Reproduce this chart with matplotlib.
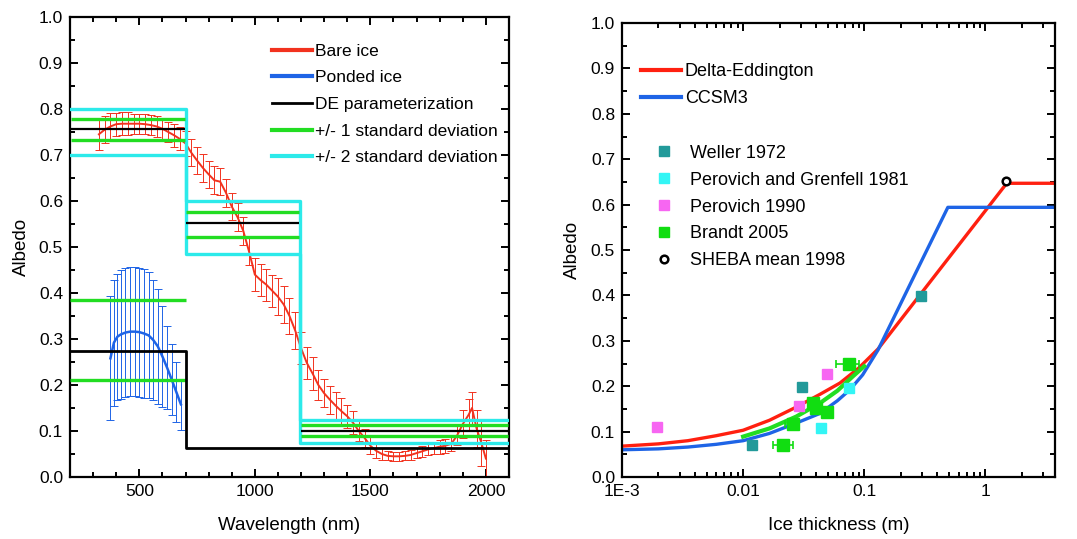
import numpy as np
import matplotlib.pyplot as plt
from matplotlib.lines import Line2D
from matplotlib.ticker import MultipleLocator, FixedLocator, LogLocator, NullFormatter

plt.rcParams['font.family'] = ['Liberation Sans', 'DejaVu Sans']

# ---- left panel: spectral albedo ----
bare_wl = [325, 350, 375, 400, 425, 450, 475, 500, 525, 550, 575, 600, 625, 650, 675,
           700, 725, 750, 775, 800, 825, 850, 875, 900, 925, 950, 975, 1000, 1025, 1050,
           1075, 1100, 1125, 1150, 1175, 1200, 1225, 1250, 1275, 1300, 1325, 1350, 1375,
           1400, 1425, 1450, 1475, 1500, 1525, 1550, 1575, 1600, 1625, 1650, 1675, 1700,
           1725, 1750, 1775, 1800, 1825, 1850, 1875, 1900, 1925, 1940, 1960, 1980, 2000]
bare_alb = [0.745, 0.755, 0.762, 0.767, 0.768, 0.768, 0.768, 0.768, 0.767, 0.765, 0.762,
            0.757, 0.750, 0.743, 0.735, 0.725, 0.705, 0.688, 0.672, 0.658, 0.645, 0.642,
            0.618, 0.588, 0.565, 0.535, 0.490, 0.440, 0.428, 0.418, 0.405, 0.392, 0.375,
            0.350, 0.318, 0.280, 0.248, 0.225, 0.200, 0.182, 0.168, 0.155, 0.143, 0.132,
            0.118, 0.100, 0.085, 0.068, 0.057, 0.050, 0.046, 0.045, 0.045, 0.046, 0.048,
            0.052, 0.056, 0.060, 0.063, 0.066, 0.068, 0.072, 0.090, 0.115, 0.135, 0.150,
            0.105, 0.075, 0.040]
bare_err = [0.035, 0.030, 0.030, 0.025, 0.025, 0.025, 0.022, 0.022, 0.022, 0.022, 0.022,
            0.022, 0.022, 0.025, 0.025, 0.028, 0.030, 0.030, 0.030, 0.030, 0.030, 0.030,
            0.030, 0.030, 0.030, 0.030, 0.030, 0.035, 0.035, 0.035, 0.035, 0.040, 0.040,
            0.040, 0.040, 0.035, 0.035, 0.035, 0.033, 0.030, 0.030, 0.030, 0.028, 0.025,
            0.025, 0.022, 0.020, 0.018, 0.015, 0.012, 0.010, 0.010, 0.010, 0.010, 0.010,
            0.010, 0.012, 0.012, 0.014, 0.015, 0.015, 0.016, 0.020, 0.030, 0.035, 0.035,
            0.040, 0.050, 0.040]

pond_wl = [375, 390, 405, 420, 440, 460, 480, 500, 520, 540, 560, 580, 600, 620, 640, 660, 680]
pond_alb = [0.258, 0.292, 0.305, 0.310, 0.314, 0.316, 0.316, 0.315, 0.312, 0.308, 0.298,
            0.284, 0.262, 0.238, 0.212, 0.185, 0.158]
pond_err = [0.135, 0.137, 0.137, 0.140, 0.140, 0.140, 0.140, 0.140, 0.140, 0.137, 0.130,
            0.125, 0.110, 0.090, 0.078, 0.066, 0.055]

band_edges = [200, 700, 1195, 2100]
bare_de = [0.757, 0.552, 0.101]
bare_1sd_hi = [0.779, 0.576, 0.114]
bare_1sd_lo = [0.732, 0.522, 0.090]
bare_2sd_hi = [0.800, 0.600, 0.124]
bare_2sd_lo = [0.700, 0.484, 0.075]
pond_edges = [200, 700, 2100]
pond_de = [0.275, 0.063]
pond_1sd = [0.385, 0.210]

# ---- right panel: albedo vs ice thickness ----
de_h = [0.001, 0.002, 0.0035, 0.006, 0.01, 0.0165, 0.027, 0.043, 0.063, 0.09, 0.13,
        0.4, 1.5, 3.8]
de_alb = [0.068, 0.073, 0.080, 0.091, 0.103, 0.125, 0.153, 0.182, 0.207, 0.240, 0.282,
          0.450, 0.647, 0.647]
ccsm_h = [0.001, 0.002, 0.0035, 0.006, 0.01, 0.0165, 0.027, 0.043, 0.06, 0.076, 0.097,
          0.13, 0.25, 0.49, 3.8]
ccsm_alb = [0.060, 0.062, 0.066, 0.072, 0.080, 0.096, 0.118, 0.140, 0.168, 0.192, 0.225,
            0.280, 0.435, 0.594, 0.594]
fit_h = [0.01, 0.0165, 0.0274, 0.0427, 0.06, 0.08, 0.1]
fit_alb = [0.089, 0.107, 0.133, 0.162, 0.190, 0.221, 0.244]

weller_h = [0.0118, 0.0308, 0.294]
weller_alb = [0.071, 0.199, 0.399]
pg_h = [0.0442, 0.0746]
pg_alb = [0.109, 0.197]
per90_h = [0.00194, 0.0291, 0.049]
per90_alb = [0.111, 0.157, 0.228]
brandt_h = [0.0215, 0.0257, 0.0381, 0.0402, 0.049, 0.0746]
brandt_alb = [0.071, 0.116, 0.163, 0.151, 0.143, 0.249]
brandt_lo = [0.0176, 0.0220, 0.0381, 0.0402, 0.049, 0.0587]
brandt_hi = [0.0260, 0.0292, 0.0381, 0.0402, 0.049, 0.0900]
sheba_h = [1.47]
sheba_alb = [0.651]

RED = '#f2321e'
RED2 = '#ff2010'
BLUE = '#1e64e6'
GREEN = '#22dd22'
CYAN = '#2ceaea'
TEAL = '#229a9a'
AQUA = '#33f5f5'
PINK = '#f766f2'
LIME = '#11dd11'


def style_axes(ax):
    for s in ax.spines.values():
        s.set_linewidth(1.6)
    ax.tick_params(which='both', direction='in', top=True, right=True, width=1.4,
                   labelsize=12.5, pad=5)
    ax.tick_params(which='major', length=5.5)
    ax.tick_params(which='minor', length=3.5)
    ax.set_ylim(0, 1.0)
    ax.yaxis.set_major_locator(MultipleLocator(0.1))
    ax.yaxis.set_minor_locator(MultipleLocator(0.05))
    ax.yaxis.set_major_formatter(lambda v, p: '%.1f' % v)
    ax.set_ylabel('Albedo', fontsize=13.5)


fig = plt.figure(figsize=(10.77, 5.39), dpi=100)
ax1 = fig.add_axes([0.065, 0.115, 0.4076, 0.8535])
ax2 = fig.add_axes([0.5775, 0.115, 0.402, 0.8423])

# left
ax1.errorbar(bare_wl, bare_alb, yerr=bare_err, color=RED, lw=1.4, elinewidth=0.7,
             capsize=3, capthick=0.7, zorder=2)
ax1.errorbar(pond_wl, pond_alb, yerr=pond_err, color=BLUE, lw=1.8, elinewidth=0.7,
             capsize=3, capthick=0.7, zorder=2)
ax1.step(band_edges, bare_2sd_hi + bare_2sd_hi[-1:], where='post', color=CYAN, lw=2.4, zorder=3)
ax1.step(band_edges, bare_2sd_lo + bare_2sd_lo[-1:], where='post', color=CYAN, lw=2.4, zorder=3)
for i in range(3):
    x0, x1 = band_edges[i] + 4, band_edges[i + 1] - 4
    ax1.hlines([bare_1sd_hi[i], bare_1sd_lo[i]], x0, x1, color=GREEN, lw=2.4, zorder=4)
    ax1.hlines(bare_de[i], x0, x1, color='black', lw=1.6, zorder=4)
ax1.hlines(pond_1sd, 200, 700, color=GREEN, lw=2.4, zorder=4)
ax1.step(pond_edges, pond_de + pond_de[-1:], where='post', color='black', lw=2.0, zorder=4)

ax1.set_xlim(200, 2100)
ax1.xaxis.set_major_locator(FixedLocator([500, 1000, 1500, 2000]))
ax1.xaxis.set_minor_locator(MultipleLocator(100))
style_axes(ax1)
ax1.set_xlabel('Wavelength (nm)', fontsize=13.5, labelpad=13)
ax1.yaxis.set_label_coords(-0.092, 0.5)

h1 = [Line2D([], [], color=RED, lw=3), Line2D([], [], color=BLUE, lw=3),
      Line2D([], [], color='black', lw=2), Line2D([], [], color=GREEN, lw=3),
      Line2D([], [], color=CYAN, lw=3)]
ax1.legend(h1, ['Bare ice', 'Ponded ice', 'DE parameterization', '+/- 1 standard deviation',
                '+/- 2 standard deviation'], loc='upper left', bbox_to_anchor=(0.46, 0.942),
           frameon=False, fontsize=12.5, handlelength=2.3, handletextpad=0.2,
           labelspacing=0.66, borderpad=0, borderaxespad=0)

# right
ax2.plot(de_h, de_alb, color=RED2, lw=2.4, zorder=2)
ax2.plot(ccsm_h, ccsm_alb, color=BLUE, lw=2.4, zorder=2)
ax2.plot(fit_h, fit_alb, color=GREEN, lw=3, zorder=3)
ax2.plot(weller_h, weller_alb, 's', color=TEAL, ms=7, zorder=4)
ax2.plot(pg_h, pg_alb, 's', color=AQUA, ms=7, zorder=4)
ax2.plot(per90_h, per90_alb, 's', color=PINK, ms=7, zorder=4)
xerr = [np.array(brandt_h) - np.array(brandt_lo), np.array(brandt_hi) - np.array(brandt_h)]
ax2.errorbar(brandt_h, brandt_alb, xerr=xerr, fmt='s', color=LIME, ms=8,
             elinewidth=1.2, capsize=3, capthick=1.2, zorder=5)
ax2.plot(sheba_h, sheba_alb, 'o', mfc='white', mec='black', mew=1.8, ms=5.5, zorder=6)

ax2.set_xscale('log')
ax2.set_xlim(1e-3, 3.75)
ax2.xaxis.set_major_locator(FixedLocator([1e-3, 1e-2, 1e-1, 1]))
ax2.xaxis.set_major_formatter(lambda v, p: {1e-3: '1E-3', 1e-2: '0.01', 1e-1: '0.1'}.get(v, '1'))
ax2.xaxis.set_minor_locator(LogLocator(base=10, subs=np.arange(2, 10)))
ax2.xaxis.set_minor_formatter(NullFormatter())
style_axes(ax2)
ax2.set_xlabel('Ice thickness (m)', fontsize=13.5, labelpad=13)
ax2.yaxis.set_label_coords(-0.095, 0.5)

h2 = [Line2D([], [], color=RED2, lw=3), Line2D([], [], color=BLUE, lw=3)]
leg = ax2.legend(h2, ['Delta-Eddington', 'CCSM3'], loc='upper left',
                 bbox_to_anchor=(0.045, 0.912), frameon=False, fontsize=13,
                 handlelength=2.2, handletextpad=0.2, labelspacing=0.55,
                 borderpad=0, borderaxespad=0)
ax2.add_artist(leg)
h3 = [Line2D([], [], ls='none', marker='s', color=TEAL, ms=7),
      Line2D([], [], ls='none', marker='s', color=AQUA, ms=7),
      Line2D([], [], ls='none', marker='s', color=PINK, ms=7),
      Line2D([], [], ls='none', marker='s', color=LIME, ms=7),
      Line2D([], [], ls='none', marker='o', mfc='white', mec='black', mew=1.8, ms=5.5)]
ax2.legend(h3, ['Weller 1972', 'Perovich and Grenfell 1981', 'Perovich 1990', 'Brandt 2005',
                'SHEBA mean 1998'], loc='upper left', bbox_to_anchor=(0.077, 0.732),
           frameon=False, fontsize=13, handlelength=1.0, handletextpad=0.9,
           labelspacing=0.55, borderpad=0, borderaxespad=0)

fig.savefig('out.png', dpi=100)
